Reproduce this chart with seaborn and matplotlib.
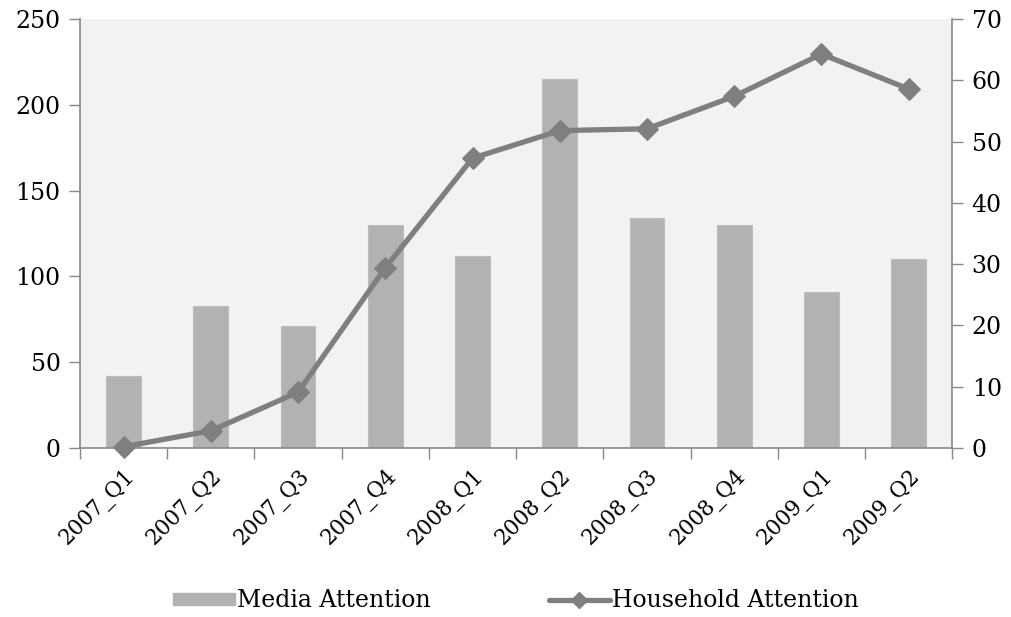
import pandas as pd
import numpy as np
import matplotlib
matplotlib.use("Agg")
import matplotlib.pyplot as plt
import seaborn as sns
from matplotlib.lines import Line2D
from matplotlib.patches import Patch

# data
quarters = ["2007_Q1", "2007_Q2", "2007_Q3", "2007_Q4", "2008_Q1",
            "2008_Q2", "2008_Q3", "2008_Q4", "2009_Q1", "2009_Q2"]
media_attention = [42, 83, 71, 130, 112, 215, 134, 130, 91, 110]
household_attention = [0.2, 2.8, 9.1, 29.4, 47.3, 51.8, 52.1, 57.4, 64.3, 58.6]

df = pd.DataFrame({
    "Quarter": quarters,
    "Media Attention": media_attention,
    "Household Attention": household_attention,
})

sns.set_style("white")
plt.rcParams["font.family"] = ["DejaVu Serif"]
plt.rcParams["font.size"] = 17
plt.rcParams["text.color"] = "black"
plt.rcParams["xtick.color"] = "black"
plt.rcParams["ytick.color"] = "black"

bar_color = "#B2B2B2"
line_color = "#7F7F7F"
spine_color = "#888888"

fig = plt.figure(figsize=(10.12, 6.17), dpi=100)
ax = fig.add_axes([0.079, 0.274, 0.862, 0.695])
ax.set_facecolor("#F2F2F2")

sns.barplot(data=df, x="Quarter", y="Media Attention", color=bar_color,
            width=0.4, saturation=1, edgecolor="#BDBDBD", linewidth=0.8, ax=ax)
ax.set_ylim(0, 250)
ax.set_xlim(-0.5, len(quarters) - 0.5)
ax.set_yticks(np.arange(0, 251, 50))
ax.set_xlabel("")
ax.set_ylabel("")

ax2 = ax.twinx()
sns.lineplot(data=df, x="Quarter", y="Household Attention", color=line_color,
             linewidth=3.8, marker="D", markersize=11, markeredgecolor=line_color,
             clip_on=False, ax=ax2, sort=False)
ax2.set_ylim(0, 70)
ax2.set_yticks(np.arange(0, 71, 10))
ax2.set_ylabel("")
ax2.set_xlim(-0.5, len(quarters) - 0.5)

# x ticks at category boundaries, labels at centres
ax.set_xticks(np.arange(-0.5, len(quarters), 1.0))
ax.set_xticklabels([])
ax.set_xticks(np.arange(len(quarters)), minor=True)
ax.set_xticklabels(quarters, minor=True, rotation=45, ha="right",
                   rotation_mode="anchor", fontsize=15.5)
ax.tick_params(axis="x", which="major", length=8, width=1, color=spine_color,
               direction="out", bottom=True)
ax.tick_params(axis="x", which="minor", length=0, pad=12, labelcolor="black")
ax.tick_params(axis="y", length=8, width=1, color=spine_color, left=True, pad=6,
               labelcolor="black")
ax2.tick_params(axis="y", length=8, width=1, color=spine_color, right=True, pad=6,
                labelcolor="black")

for a in (ax, ax2):
    a.spines["top"].set_visible(False)
    for s in ("left", "right", "bottom"):
        a.spines[s].set_color(spine_color)
        a.spines[s].set_linewidth(1.2)
ax2.spines["left"].set_visible(False)
ax2.spines["bottom"].set_visible(False)
ax.spines["right"].set_visible(False)

handles = [
    Patch(facecolor=bar_color, edgecolor=bar_color),
    Line2D([0], [0], color=line_color, linewidth=3.8, marker="D", markersize=8),
]
fig.legend(handles, ["Media Attention", "Household Attention"],
           loc="center", bbox_to_anchor=(0.51, 0.026), ncol=2, frameon=False,
           handlelength=2.6, handleheight=0.4, handletextpad=0.1,
           columnspacing=5.0)

fig.savefig("out.png", dpi=100)
